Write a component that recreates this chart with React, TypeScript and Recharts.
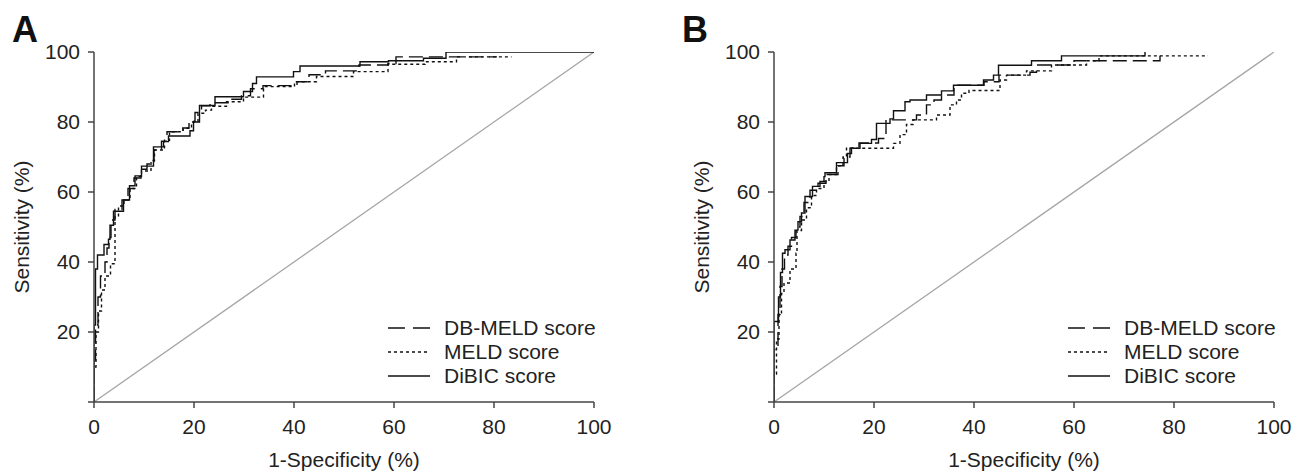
import React from "react";
import { LineChart, Line, XAxis, YAxis, Legend } from "recharts";

// ---- panel A (fpr %, sensitivity %) ----
const aDibicX = [0, 0, 0.3, 0.7, 2, 2.9, 3.2, 3.9, 5.9, 7.1, 8.2, 9.5, 11.9, 13.9, 14.9, 19.2, 19.9, 21.1, 24.2, 29.9, 31.7, 32.5, 39.9, 41.2, 53.2, 58.9, 65.9, 70.4, 100];
const aDibicY = [0, 22, 38, 42, 45, 46.5, 50.5, 54.5, 57.7, 61.8, 64.6, 67.4, 72.9, 74.4, 76, 77.5, 80, 84.7, 87.2, 88.7, 91, 92.9, 94.4, 96, 97.2, 97.5, 98.2, 100, 100];

const aDbmeldX = [0, 0, 0.3, 0.8, 1.3, 2.2, 2.6, 3, 3.4, 4.2, 5.6, 6.8, 8, 9.4, 10.6, 12, 13.5, 14.6, 17.8, 19, 20.2, 21.5, 23.2, 26.8, 29.5, 31.3, 33.8, 40.6, 43, 46.3, 53, 58.8, 60.4, 80.6];
const aDbmeldY = [0, 12, 22, 30, 36, 40, 44, 47, 52, 55, 57.7, 61, 64, 66.5, 68, 72, 74.5, 77.2, 78.3, 80.2, 82.7, 84.6, 85.5, 86.5, 87.5, 89.5, 90.4, 91.5, 93.5, 94.6, 96.3, 96.7, 98.6, 98.6];

const aMeldX = [0, 0, 0.4, 0.9, 1.5, 2.2, 3.3, 4.2, 4.9, 6, 7.2, 8.5, 9.5, 11.4, 12.1, 14.1, 15.1, 17.8, 19.5, 20.8, 22.3, 23.5, 26.5, 29.9, 33.9, 40.1, 44.5, 51.9, 58.8, 66.2, 72.5, 83.5];
const aMeldY = [0, 10, 20, 26, 32, 36, 39.5, 53, 56, 57.7, 61, 64.4, 66, 69, 72, 74.8, 77.2, 78.2, 80, 82.5, 83.4, 84.5, 85.8, 87.1, 90.1, 91.5, 93, 94.4, 96.5, 97.2, 98.6, 98.6];

// ---- panel B ----
const bDibicX = [0, 0, 0.9, 1.3, 1.7, 2.2, 3.2, 4.2, 4.8, 5.5, 6.2, 7.7, 9.2, 10, 10.2, 12.5, 14.7, 15.5, 17.2, 19.5, 20.5, 23.2, 23.9, 26.2, 27.2, 30.5, 33.5, 35.9, 41.9, 43.9, 44.9, 51.5, 57.5, 74.2];
const bDibicY = [0, 23, 30, 37, 42.5, 43.5, 46.3, 49.1, 51.5, 54, 58.7, 61.6, 63, 64.4, 65.5, 68.4, 71, 72.5, 73.9, 75, 79.6, 80.9, 83.2, 85.8, 86.3, 87.7, 88.9, 90.5, 92, 93.4, 96.2, 97.5, 98.9, 100];

const bDbmeldX = [0, 0, 0.8, 1.2, 1.6, 2.1, 2.8, 3.5, 4.4, 5.2, 6, 7.2, 8.8, 10.4, 12.8, 14, 15.2, 17, 20.9, 22.4, 28.5, 30.5, 32, 33.5, 36, 42, 45, 51.2, 52.5, 60, 77.2];
const bDbmeldY = [0, 15, 25, 33, 38, 42, 44.5, 47, 50, 53, 57, 60.5, 62.5, 65, 67.5, 70, 72.5, 74, 75.3, 80.6, 82, 84.9, 86.3, 87.7, 90.5, 91.5, 93.4, 94.2, 96.3, 97.5, 98.9];

const bMeldX = [0, 0, 0.5, 1, 1.5, 2, 3.2, 4.4, 4.6, 5.5, 6.5, 7.5, 8.5, 10, 11, 12.5, 13.8, 14.5, 23.9, 25.2, 26.5, 27.8, 32.5, 35.2, 36.5, 37.5, 39, 45.2, 46.5, 50.5, 55.5, 62.5, 65, 86.8];
const bMeldY = [0, 8, 18, 25, 31, 34, 38, 42.5, 49, 52, 55.5, 59, 61, 63, 65, 67.5, 70, 72.5, 73.9, 76.4, 79.3, 80.6, 82, 84.9, 86.3, 88.2, 89, 92, 93.4, 94.6, 96.3, 97.5, 98.9, 98.9];

const diagX = [0, 100];
const diagY = [0, 100];
const ticks = [0, 20, 40, 60, 80, 100];

const font = "'Liberation Sans', Arial, Helvetica, sans-serif";
const zip = (xs: number[], ys: number[]) => xs.map((x, i) => ({ x, y: ys[i] }));

const styles = [
  { name: "DB-MELD score", dash: "17 8" },
  { name: "MELD score", dash: "3 3" },
  { name: "DiBIC score", dash: undefined as string | undefined },
];

const renderLegend = () => (
  <div style={{ fontFamily: font, fontSize: 21, color: "#222" }}>
    {styles.map(s => (
      <div key={s.name} style={{ display: "flex", alignItems: "center", height: 24 }}>
        <svg width={42} height={4} style={{ flexShrink: 0 }}>
          <line x1={0} y1={2} x2={42} y2={2} stroke="#111" strokeWidth={1.3} strokeDasharray={s.dash} />
        </svg>
        <span style={{ marginLeft: 14, whiteSpace: "nowrap" }}>{s.name}</span>
      </div>
    ))}
  </div>
);

function Panel({ letter, letterLeft, dbmeld, meld, dibic }: any) {
  const axisStroke = "#444";
  const tick = { fontSize: 21, fill: "#222", fontFamily: font };
  return (
    <div style={{ position: "relative", width: 613, height: 471 }}>
      <LineChart width={613} height={471} margin={{ top: 52, right: 19, bottom: 3, left: 0 }}>
        <XAxis dataKey="x" type="number" domain={[0, 100]} ticks={ticks} allowDataOverflow
          stroke={axisStroke} strokeWidth={1.5} tickSize={6} tickMargin={11} tick={tick} height={66}
          label={{ value: "1-Specificity (%)", position: "insideBottom", offset: 1, style: { fontSize: 21, fill: "#222", fontFamily: font } }} />
        <YAxis type="number" domain={[0, 100]} ticks={ticks} allowDataOverflow width={94}
          stroke={axisStroke} strokeWidth={1.5} tickSize={6} tickMargin={8} tick={tick}
          tickFormatter={(v: number) => (v === 0 ? "" : String(v))}
          label={{ value: "Sensitivity (%)", angle: -90, position: "insideLeft", offset: 22, style: { textAnchor: "middle", fontSize: 21, fill: "#222", fontFamily: font } }} />
        <Legend layout="vertical" align="center" verticalAlign="middle" content={renderLegend}
          wrapperStyle={{ left: 388, top: 316, width: 230, height: 72 }} />
        <Line data={zip(diagX, diagY)} dataKey="y" type="linear" stroke="#a6a6a6" strokeWidth={1.3} dot={false} activeDot={false} isAnimationActive={false} />
        <Line data={zip(meld[0], meld[1])} dataKey="y" type="stepAfter" stroke="#111" strokeWidth={1.4} strokeDasharray="3 3" dot={false} activeDot={false} isAnimationActive={false} />
        <Line data={zip(dbmeld[0], dbmeld[1])} dataKey="y" type="stepAfter" stroke="#111" strokeWidth={1.4} strokeDasharray="14 6" dot={false} activeDot={false} isAnimationActive={false} />
        <Line data={zip(dibic[0], dibic[1])} dataKey="y" type="stepAfter" stroke="#111" strokeWidth={1.4} dot={false} activeDot={false} isAnimationActive={false} />
      </LineChart>
      <div style={{ position: "absolute", left: letterLeft, top: 12, fontFamily: font, fontWeight: 700, fontSize: 36, lineHeight: 1, color: "#111" }}>{letter}</div>
    </div>
  );
}

export default function App() {
  return (
    <div style={{ position: "absolute", left: 0, top: 0, width: 1293, height: 471, background: "white", overflow: "hidden" }}>
      <div style={{ position: "absolute", left: 0, top: 0 }}>
        <Panel letter="A" letterLeft={12} dbmeld={[aDbmeldX, aDbmeldY]} meld={[aMeldX, aMeldY]} dibic={[aDibicX, aDibicY]} />
      </div>
      <div style={{ position: "absolute", left: 680, top: 0 }}>
        <Panel letter="B" letterLeft={2} dbmeld={[bDbmeldX, bDbmeldY]} meld={[bMeldX, bMeldY]} dibic={[bDibicX, bDibicY]} />
      </div>
    </div>
  );
}
